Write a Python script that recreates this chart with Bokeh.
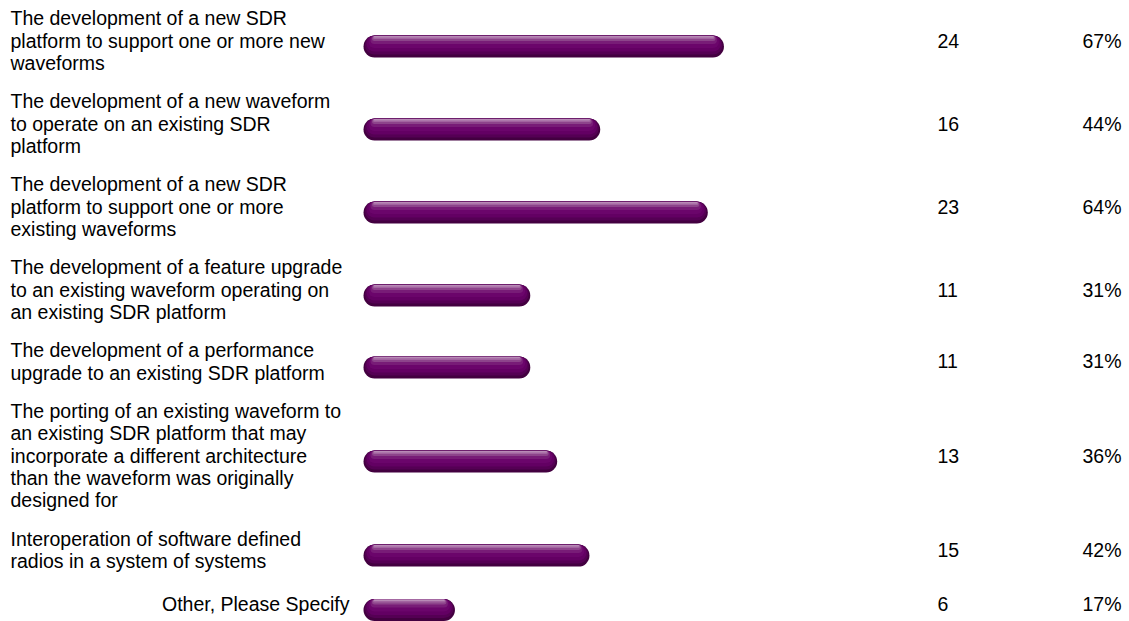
from bokeh.plotting import figure
from bokeh.models import Range1d, ColumnDataSource
from bokeh.embed import file_html
from bokeh.resources import INLINE
from bokeh.core.properties import value

# ---- data ----
labels = [
    "The development of a new SDR\nplatform to support one or more new\nwaveforms",
    "The development of a new waveform\nto operate on an existing SDR\nplatform",
    "The development of a new SDR\nplatform to support one or more\nexisting waveforms",
    "The development of a feature upgrade\nto an existing waveform operating on\nan existing SDR platform",
    "The development of a performance\nupgrade to an existing SDR platform",
    "The porting of an existing waveform to\nan existing SDR platform that may\nincorporate a different architecture\nthan the waveform was originally\ndesigned for",
    "Interoperation of software defined\nradios in a system of systems",
    "Other, Please Specify",
]
counts = [24, 16, 23, 11, 11, 13, 15, 6]
percents = [67, 44, 64, 31, 31, 36, 42, 17]

# ---- layout (page-pixel units) ----
LH = 22.2          # label line spacing
PAD = 16.4         # row padding
MIN_H = 48         # minimum row height
TOP = 4.5
TEXT_SHIFT = -6.0  # text sits slightly above the bar centre
LABEL_X = 10
OTHER_RIGHT_X = 349
COUNT_X = 937
PCT_RIGHT_X = 1121
BAR_X0 = 363       # pixel where 0 % starts
K = 5.38           # pixels per percent
CAP = 11           # bar half-height (px)

lines_per_row = [lab.split("\n") for lab in labels]
heights = [max(len(ls) * LH + PAD, MIN_H) for ls in lines_per_row]
centers = []
cur = TOP
for h in heights:
    centers.append(cur + h / 2)
    cur += h

W, H = 1129, 621
X0, X1 = 0, W
Y_TOP, Y_BOT = 0, H
p = figure(width=W, height=H,
           x_range=Range1d(X0, X1), y_range=Range1d(Y_BOT, Y_TOP),
           output_backend="svg", toolbar_location=None,
           x_axis_location=None, y_axis_location=None,
           min_border=0, min_border_left=0, min_border_right=0,
           min_border_top=0, min_border_bottom=0)
p.grid.visible = False
p.outline_line_color = None
p.background_fill_color = "white"
p.border_fill_color = "white"

p.extra_x_ranges = {"pct": Range1d((X0 - BAR_X0) / K, (X1 - BAR_X0) / K)}

# ---- bars: stacked round-capped strokes imitate the glossy gradient ----
layers = [
    (22, 0.0, "#430040"),
    (19, -1.5, "#550054"),
    (16, -3.0, "#630063"),
    (12, -4.5, "#6b056b"),
    (8, -6.5, "#781c77"),
    (5, -8.0, "#8d448b"),
    (3, -9.0, "#a264a0"),
    (1.5, -9.8, "#b88ab6"),
]
cap_units = CAP / K
for w, dy, col in layers:
    src = ColumnDataSource(dict(
        x0=[cap_units for _ in percents],
        x1=[pc - cap_units for pc in percents],
        y=[c + dy for c in centers],
    ))
    p.segment(x0="x0", x1="x1", y0="y", y1="y", source=src,
              x_range_name="pct", line_width=w, line_color=col,
              line_cap="round")

# ---- label texts ----
lx, ly, lt = [], [], []
ox, oy, ot = [], [], []
for i, ls in enumerate(lines_per_row):
    n = len(ls)
    for j, t in enumerate(ls):
        yy = centers[i] + TEXT_SHIFT + (j - (n - 1) / 2) * LH
        if labels[i].startswith("Other"):
            ox.append(OTHER_RIGHT_X); oy.append(yy); ot.append(t)
        else:
            lx.append(LABEL_X); ly.append(yy); lt.append(t)

font = value("Liberation Sans")
fs = "19.5px"
p.text(x=lx, y=ly, text=lt, text_font=font, text_font_size=fs,
       text_align="left", text_baseline="middle", text_color="#000000")
p.text(x=ox, y=oy, text=ot, text_font=font, text_font_size=fs,
       text_align="right", text_baseline="middle", text_color="#000000")

ty = [c + TEXT_SHIFT for c in centers]
p.text(x=[COUNT_X] * len(counts), y=ty, text=[str(c) for c in counts],
       text_font=font, text_font_size=fs, text_align="left",
       text_baseline="middle", text_color="#000000")
p.text(x=[PCT_RIGHT_X] * len(percents), y=ty, text=[f"{v}%" for v in percents],
       text_font=font, text_font_size=fs, text_align="right",
       text_baseline="middle", text_color="#000000")

open("out.html", "w").write(file_html(p, INLINE))
